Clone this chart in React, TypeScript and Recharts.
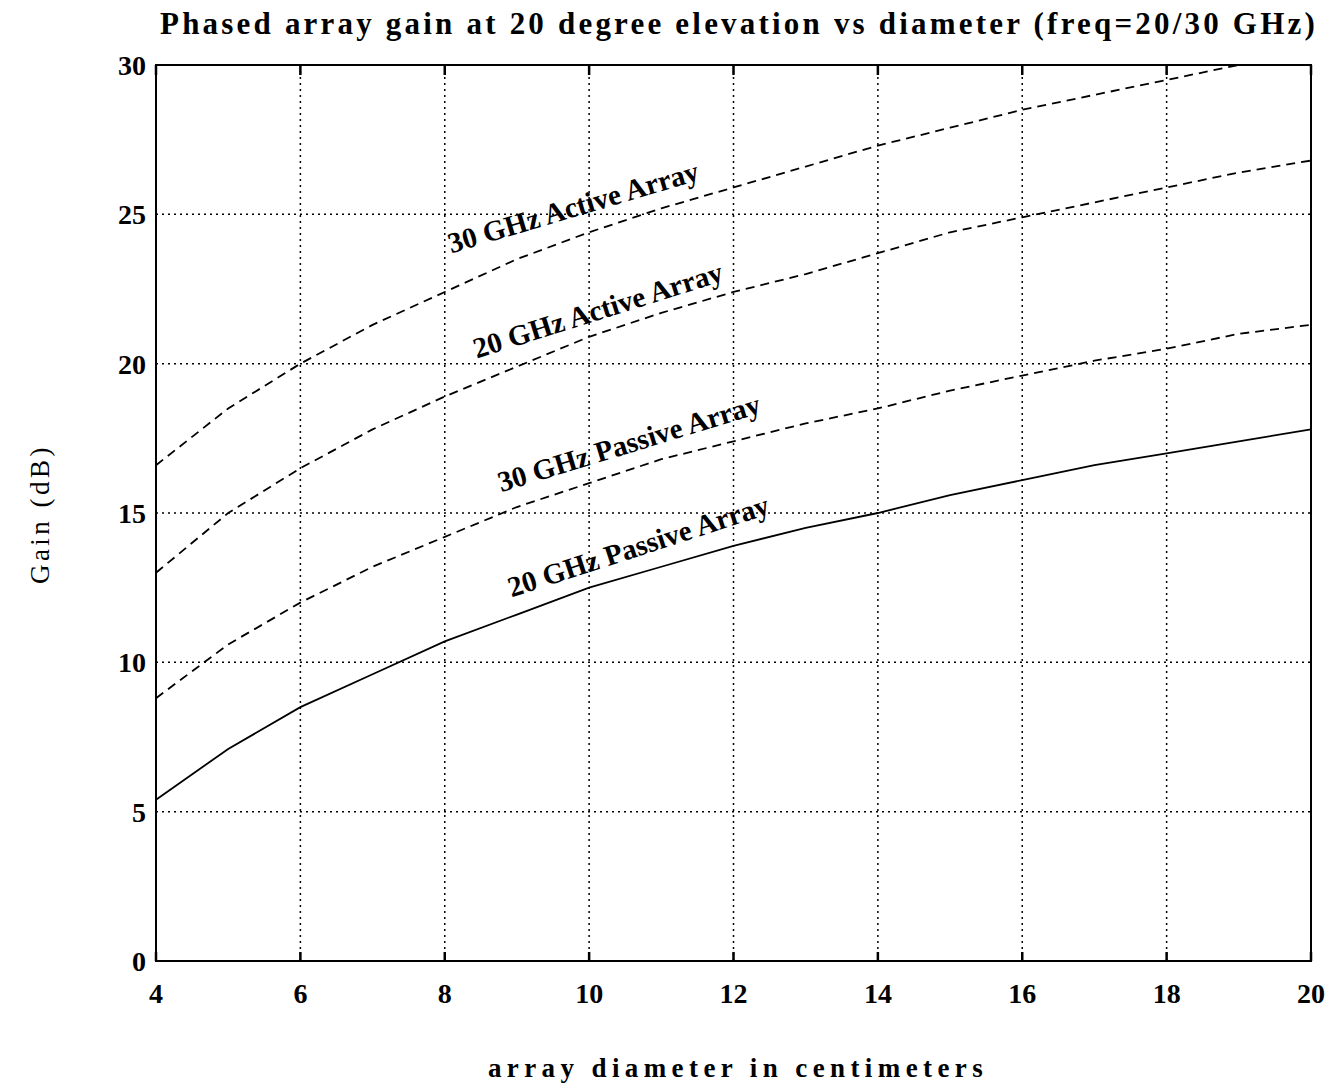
import React from 'react';
import { LineChart, Line, XAxis, YAxis, CartesianGrid, ReferenceArea, ReferenceDot } from 'recharts';

const diameters = [4, 5, 6, 7, 8, 9, 10, 11, 12, 13, 14, 15, 16, 17, 18, 19, 20];
const gain30Active = [16.6, 18.5, 20.0, 21.3, 22.4, 23.5, 24.4, 25.2, 25.9, 26.6, 27.3, 27.9, 28.5, 29.0, 29.5, 30.0, 30.5];
const gain20Active = [13.0, 15.0, 16.5, 17.8, 18.9, 19.9, 20.9, 21.7, 22.4, 23.0, 23.7, 24.4, 24.9, 25.4, 25.9, 26.4, 26.8];
const gain30Passive = [8.8, 10.6, 12.0, 13.2, 14.2, 15.2, 16.0, 16.8, 17.4, 18.0, 18.5, 19.1, 19.6, 20.1, 20.5, 21.0, 21.3];
const gain20Passive = [5.4, 7.1, 8.5, 9.6, 10.7, 11.6, 12.5, 13.2, 13.9, 14.5, 15.0, 15.6, 16.1, 16.6, 17.0, 17.4, 17.8];

const xTicks = [4, 6, 8, 10, 12, 14, 16, 18, 20];
const yTicks = [0, 5, 10, 15, 20, 25, 30];

const labelTexts = ['30 GHz Active Array', '20 GHz Active Array', '30 GHz Passive Array', '20 GHz Passive Array'];
const labelX = [9.78, 10.12, 10.55, 10.68];
const labelY = [25.25, 21.8, 17.35, 13.9];
const labelAngle = [-16.5, -17.5, -17, -18];

const data = diameters.map((d, i) => ({
  d,
  a30: gain30Active[i],
  a20: gain20Active[i],
  p30: gain30Passive[i],
  p20: gain20Passive[i],
}));

const serif = '"Liberation Serif", "Times New Roman", serif';
const emptyTick = () => <g />;

export default function App() {
  return (
    <div style={{ position: 'absolute', left: 0, top: 0, width: 1339, height: 1087, background: '#fff' }}>
      <div
        style={{
          position: 'absolute',
          left: 160,
          top: 6,
          whiteSpace: 'nowrap',
          fontFamily: serif,
          fontWeight: 'bold',
          fontSize: 31,
          letterSpacing: 3.2,
          color: '#000',
        }}
      >
        Phased array gain at 20 degree elevation vs diameter (freq=20/30 GHz)
      </div>
      <div
        style={{
          position: 'absolute',
          left: 40,
          top: 514,
          transform: 'translate(-50%, -50%) rotate(-90deg)',
          whiteSpace: 'nowrap',
          fontFamily: serif,
          fontSize: 27,
          letterSpacing: 3.5,
          color: '#000',
        }}
      >
        Gain (dB)
      </div>
      <div
        style={{
          position: 'absolute',
          left: 738,
          top: 1068,
          transform: 'translate(-50%, -50%)',
          whiteSpace: 'nowrap',
          fontFamily: serif,
          fontWeight: 'bold',
          fontSize: 27,
          letterSpacing: 5.4,
          color: '#000',
        }}
      >
        array diameter in centimeters
      </div>
      <LineChart
        width={1339}
        height={1087}
        data={data}
        margin={{ top: 65, right: 28, bottom: 66, left: 96 }}
      >
        <CartesianGrid stroke="#000" strokeWidth={1.5} strokeDasharray="2 4" />
        <XAxis
          dataKey="d"
          type="number"
          domain={[4, 20]}
          ticks={xTicks}
          height={60}
          axisLine={{ stroke: '#000', strokeWidth: 2 }}
          tickLine={false}
          tickSize={0}
          tickMargin={22}
          tick={{ fill: '#000', fontFamily: serif, fontWeight: 'bold', fontSize: 28 }}
        />
        <XAxis
          xAxisId="bottomInner"
          dataKey="d"
          type="number"
          domain={[4, 20]}
          ticks={xTicks}
          height={1}
          mirror
          axisLine={false}
          tick={emptyTick}
          tickSize={9}
          tickLine={{ stroke: '#000', strokeWidth: 2.5 }}
        />
        <XAxis
          xAxisId="topInner"
          orientation="top"
          dataKey="d"
          type="number"
          domain={[4, 20]}
          ticks={xTicks}
          height={1}
          mirror
          axisLine={false}
          tick={emptyTick}
          tickSize={10}
          tickLine={{ stroke: '#000', strokeWidth: 2.5 }}
        />
        <YAxis
          type="number"
          domain={[0, 30]}
          ticks={yTicks}
          allowDataOverflow
          width={60}
          axisLine={{ stroke: '#000', strokeWidth: 2 }}
          tickLine={false}
          tickSize={0}
          tickMargin={10}
          tick={{ fill: '#000', fontFamily: serif, fontWeight: 'bold', fontSize: 28 }}
        />
        <YAxis
          yAxisId="leftInner"
          type="number"
          domain={[0, 30]}
          ticks={yTicks}
          width={1}
          mirror
          axisLine={false}
          tick={emptyTick}
          tickSize={10}
          tickLine={{ stroke: '#000', strokeWidth: 2 }}
        />
        <YAxis
          yAxisId="rightInner"
          orientation="right"
          type="number"
          domain={[0, 30]}
          ticks={yTicks}
          width={1}
          mirror
          axisLine={false}
          tick={emptyTick}
          tickSize={10}
          tickLine={{ stroke: '#000', strokeWidth: 2 }}
        />
        <ReferenceArea x1={4} x2={20} y1={0} y2={30} fill="none" stroke="#000" strokeWidth={2} />
        <Line type="linear" dataKey="a30" stroke="#000" strokeWidth={1.8} strokeDasharray="9 6" dot={false} isAnimationActive={false} />
        <Line type="linear" dataKey="a20" stroke="#000" strokeWidth={1.8} strokeDasharray="9 6" dot={false} isAnimationActive={false} />
        <Line type="linear" dataKey="p30" stroke="#000" strokeWidth={1.8} strokeDasharray="9 6" dot={false} isAnimationActive={false} />
        <Line type="linear" dataKey="p20" stroke="#000" strokeWidth={1.8} dot={false} isAnimationActive={false} />
        {labelTexts.map((t, i) => (
          <ReferenceDot
            key={t}
            x={labelX[i]}
            y={labelY[i]}
            r={0}
            ifOverflow="visible"
            shape={(p: any) => (
              <text
                x={p.cx}
                y={p.cy}
                textAnchor="middle"
                dominantBaseline="central"
                transform={`rotate(${labelAngle[i]} ${p.cx} ${p.cy})`}
                fontFamily={serif}
                fontWeight="bold"
                fontSize={29}
                fill="#000"
              >
                {t}
              </text>
            )}
          />
        ))}
      </LineChart>
    </div>
  );
}
